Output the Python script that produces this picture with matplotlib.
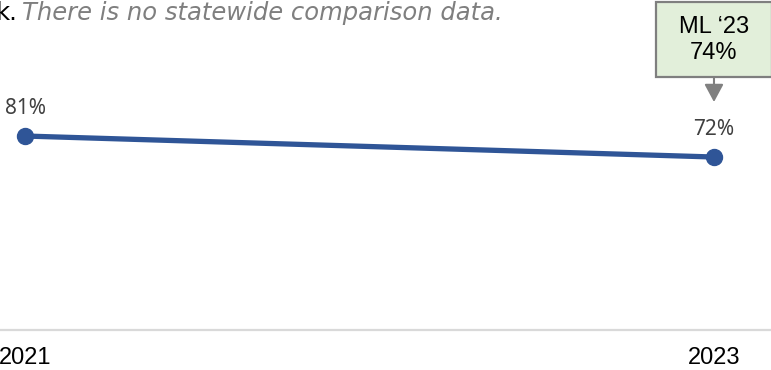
import matplotlib
matplotlib.use('Agg')
import matplotlib.pyplot as plt
from matplotlib.patches import Rectangle

# datos
anios = [2021, 2023]
valores = [81, 72]
etiquetas = ['81%', '72%']
etiquetas_x = ['2021', '2023']
comparacion = "ML \u201823\n74%"
nota = "There is no statewide comparison data."

azul = '#2f5597'

fig = plt.figure(figsize=(7.71, 3.70), dpi=100)
ax = fig.add_axes([0, 40 / 370, 1, 330 / 370])

ax.plot(anios, valores, color=azul, lw=3.8, marker='o', ms=11.5,
        solid_capstyle='round', zorder=3)

for x, v, t in zip(anios, valores, etiquetas):
    ax.annotate(t, xy=(x, v), xytext=(0, 28), textcoords='offset pixels',
                ha='center', va='center', fontsize=15, color='#404040',
                family='Noto Sans')

ax.set_xlim(2020.9274, 2023.1655)
ax.set_ylim(-2.14, 139.3)

for s in ['top', 'right', 'left']:
    ax.spines[s].set_visible(False)
ax.spines['bottom'].set_color('#d9d9d9')
ax.spines['bottom'].set_linewidth(1.6)
ax.set_yticks([])
ax.set_xticks(anios)
ax.set_xticklabels(etiquetas_x, fontsize=17, family='Liberation Sans')
ax.tick_params(axis='x', length=0, pad=12)

# cuadro de comparacion (ML '23)
tr = ax.get_xaxis_transform()
ancho = 116 / 344.5
caja = Rectangle((anios[-1] - ancho / 2, 253 / 330), ancho, 75 / 330,
                 transform=tr, facecolor='#e2efda', edgecolor='#7f7f7f',
                 lw=1.6, clip_on=False, zorder=4)
ax.add_patch(caja)
ax.text(anios[-1], 290 / 330, comparacion, transform=tr, ha='center',
        va='center', fontsize=17, family='Liberation Sans',
        linespacing=1.2, zorder=5)
ax.annotate('', xy=(anios[-1], 228 / 330), xycoords=tr,
            xytext=(anios[-1], 253 / 330), textcoords=tr,
            arrowprops=dict(arrowstyle='-|>,head_length=1.08,head_width=0.58',
                            color='#808080', lw=1.5, shrinkA=0, shrinkB=0))

# nota de arriba
fig.text(-4 / 771, 1 - 1 / 370, 'k.', ha='left', va='top', fontsize=17.5,
         color='black', family='DejaVu Sans')
fig.text(22 / 771, 1 - 1 / 370, nota, ha='left', va='top', fontsize=17.5,
         color='#7f7f7f', style='italic', family='DejaVu Sans')

plt.savefig('out.png', dpi=100)
